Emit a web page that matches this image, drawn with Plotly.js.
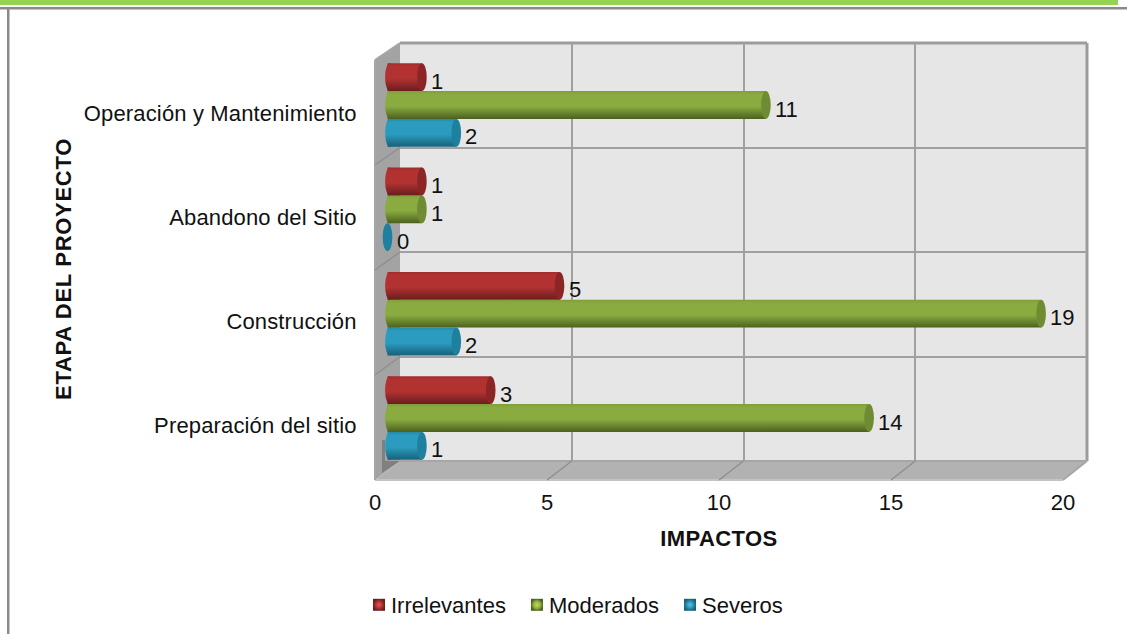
<!DOCTYPE html>
<html><head><meta charset="utf-8">
<script src="https://cdn.plot.ly/plotly-3.0.1.min.js"></script>
<style>html,body{margin:0;padding:0;background:#fff;overflow:hidden}#c{width:1127px;height:634px}</style>
</head><body><div id="c"></div>
<script>
const categories = ["Preparación del sitio","Construcción","Abandono del Sitio","Operación y Mantenimiento"];
const severos = [1,2,0,2];
const moderados = [14,19,1,11];
const irrelevantes = [3,5,1,1];
const xTicks = [0,5,10,15,20];

const W=1127,H=634;
const px=x=>x/W, py=y=>1-y/H;
const FONT='"Liberation Sans", Arial, sans-serif';
const FS=22;
const series=[
 {name:'Severos',values:severos,mid:'#2b9cbf',top:'#258aa8',bot:'#17617a',cap:'#1f7f9e',key:'#2a90b0',glow:'#5cc4e2'},
 {name:'Moderados',values:moderados,mid:'#8aab40',top:'#7f9e3a',bot:'#4c6120',cap:'#6f8c32',key:'#8fb03c',glow:'#c4dc5c'},
 {name:'Irrelevantes',values:irrelevantes,mid:'#b23232',top:'#a22c2c',bot:'#6a1d1d',cap:'#8c2626',key:'#b13030',glow:'#e05a5a'}
];
const GAP=0.2, BW=(1-GAP)/3;
const B0=400,B1=1087,F0=375,F1=1063,BT=43,BB=461,FT=60,FB=480;
const UNIT=34.4, BAR0=387.5;
const backX=v=>B0+(B1-B0)*v/20, frontX=v=>F0+(F1-F0)*v/20;

const shapes=[];
const poly=(pts,fill)=>shapes.push({type:'path',xref:'paper',yref:'paper',layer:'below',
  path:'M'+pts.map(p=>px(p[0])+','+py(p[1])).join('L')+'Z',fillcolor:fill,line:{width:0}});
const seg=(a,b,c,w)=>shapes.push({type:'line',xref:'paper',yref:'paper',layer:'below',
  x0:px(a[0]),y0:py(a[1]),x1:px(b[0]),y1:py(b[1]),line:{color:c,width:w}});
// page frame
poly([[0,0],[1118,0],[1118,5],[0,5]],'#94d452');
poly([[0,7],[1127,7],[1127,9.5],[0,9.5]],'#8a8a8a');
poly([[7,7],[9.5,7],[9.5,634],[7,634]],'#8a8a8a');
// walls
poly([[B0,BT],[B1,BT],[B1,BB],[B0,BB]],'#e6e6e6');
poly([[F0,FT],[B0,BT],[B0,BB],[F0,FB]],'#a3a3a3');
poly([[F0,FB],[B0,BB],[B1,BB],[F1,FB]],'#b2b2b2');
poly([[382,473],[400,461],[385,461],[385,440],[382,440]],'#808080');
seg([F0,FB],[F1,FB],'#c4c4c4',2);
seg([F1,FB],[B1,BB],'#a6a6a6',2);
seg([F0,FT],[B0,BT],'#a6a6a6',2);
seg([F0,FT],[F0,FB],'#a6a6a6',2);
seg([B0,BT],[B1,BT],'#9c9c9c',3);
seg([B1,BT],[B1,BB],'#9c9c9c',3);
seg([B0,BB],[B1,BB],'#a6a6a6',2);
xTicks.slice(1,-1).forEach(v=>seg([backX(v),BB],[frontX(v),FB],'#8f8f8f',1.5));
[1,2,3].forEach(i=>{const t=i/4;seg([B0,BT+(BB-BT)*t],[F0,FT+(FB-FT)*t],'#8f8f8f',1.5);});

// cylinder caps, placed through the bar axes
const leftCaps=[];
series.forEach((s,si)=>s.values.forEach((v,ci)=>{
  const yc=ci+(si-1)*BW;
  if(v>0){
    leftCaps.push({idx:shapes.length,si});
    shapes.push({type:'circle',xref:'x3',yref:'y3',layer:'above',x0:-0.07,x1:0.2,y0:yc-BW/2,y1:yc+BW/2,fillcolor:s.mid,line:{width:0}});
  }
  shapes.push({type:'circle',xref:'x3',yref:'y3',layer:'above',x0:v-0.14,x1:v+0.14,y0:yc-BW/2,y1:yc+BW/2,fillcolor:s.cap,line:{width:0}});
}));

const annotations=[];
series.forEach((s,si)=>s.values.forEach((v,ci)=>{
  annotations.push({xref:'x3',yref:'y3',x:v,y:ci+(si-1)*BW,text:String(v),showarrow:false,xanchor:'left',yanchor:'middle',
    xshift:7,yshift:-4,font:{family:FONT,size:FS,color:'#111'}});
}));

const data=[
 {type:'scatter',x:[],y:[],xaxis:'x',yaxis:'y',showlegend:false,hoverinfo:'skip'},
 {type:'scatter',x:[],y:[],xaxis:'x2',yaxis:'y2',showlegend:false,hoverinfo:'skip'}
].concat(series.map(s=>({type:'bar',orientation:'h',name:s.name,y:categories,x:s.values,xaxis:'x3',yaxis:'y3',
  marker:{color:s.key,line:{width:0}},hoverinfo:'x+y'})));

const layout={
 width:W,height:H,margin:{l:0,r:0,t:0,b:0,autoexpand:false},paper_bgcolor:'#fff',plot_bgcolor:'rgba(0,0,0,0)',
 font:{family:FONT,size:FS,color:'#111'},barmode:'group',bargap:GAP,bargroupgap:0,
 xaxis:{domain:[px(F0),px(F1)],range:[0,20],anchor:'y',tickvals:xTicks,showgrid:false,zeroline:false,showline:false,
   ticks:'outside',ticklen:6,tickcolor:'rgba(0,0,0,0)',tickfont:{size:FS},
   title:{text:'<b>IMPACTOS</b>',font:{size:FS},standoff:16}},
 yaxis:{domain:[py(477),py(61)],range:[-0.5,3.5],anchor:'x',tickvals:[0,1,2,3],ticktext:categories,showgrid:false,zeroline:false,showline:false,
   ticks:'outside',ticklen:13,tickcolor:'rgba(0,0,0,0)',tickfont:{size:FS},
   title:{text:'<b>ETAPA DEL PROYECTO</b>',font:{size:FS},standoff:9}},
 xaxis2:{domain:[px(B0),px(B1)],range:[0,20],anchor:'y2',tickvals:xTicks,showticklabels:false,ticks:'',showgrid:true,gridcolor:'#a0a0a0',gridwidth:2,zeroline:false,showline:false},
 yaxis2:{domain:[py(BB),py(BT)],range:[0,4],anchor:'x2',tickvals:[1,2,3],showticklabels:false,ticks:'',showgrid:true,gridcolor:'#a0a0a0',gridwidth:2,zeroline:false,showline:false},
 xaxis3:{domain:[px(BAR0-UNIT),px(BAR0+20*UNIT)],range:[-1,20],anchor:'y3',visible:false},
 yaxis3:{domain:[py(470.17),py(52.83)],type:'category',categoryorder:'array',categoryarray:categories,range:[-0.5,3.5],anchor:'x3',visible:false},
 legend:{orientation:'h',x:px(358),xanchor:'left',y:py(605),yanchor:'middle',traceorder:'reversed',font:{size:FS},itemwidth:30,bgcolor:'rgba(0,0,0,0)'},
 shapes,annotations,showlegend:true
};

Plotly.newPlot('c',data,layout,{displayModeBar:false,staticPlot:true}).then(gd=>{
  const NS='http://www.w3.org/2000/svg';
  const svg=gd.querySelector('svg.main-svg');
  const defs=svg.querySelector('defs')||svg.insertBefore(document.createElementNS(NS,'defs'),svg.firstChild);
  series.forEach((s,i)=>{
    const g=document.createElementNS(NS,'linearGradient');
    g.setAttribute('id','cyl'+i);g.setAttribute('x1','0');g.setAttribute('y1','0');g.setAttribute('x2','0');g.setAttribute('y2','1');
    [[0,s.top],[0.12,s.mid],[0.55,s.mid],[1,s.bot]].forEach(p=>{
      const st=document.createElementNS(NS,'stop');st.setAttribute('offset',p[0]);st.setAttribute('stop-color',p[1]);g.appendChild(st);
    });
    defs.appendChild(g);
    const r=document.createElementNS(NS,'radialGradient');
    r.setAttribute('id','key'+i);
    [[0,s.glow],[0.6,s.key],[1,s.bot]].forEach(p=>{
      const st=document.createElementNS(NS,'stop');st.setAttribute('offset',p[0]);st.setAttribute('stop-color',p[1]);r.appendChild(st);
    });
    defs.appendChild(r);
  });
  gd.querySelectorAll('.barlayer .trace.bars').forEach((t,i)=>{
    t.querySelectorAll('path').forEach(p=>{p.style.fill='url(#cyl'+i+')';});
  });
  leftCaps.forEach(c=>{
    const el=gd.querySelector('.shapelayer path[data-index="'+c.idx+'"]');
    if(el) el.style.fill='url(#cyl'+c.si+')';
  });
  gd.querySelectorAll('.xtitle').forEach(t=>{t.style.letterSpacing='0.4px';});
  gd.querySelectorAll('.ytitle').forEach(t=>{t.style.letterSpacing='0.7px';});
  gd.querySelectorAll('.ytick text').forEach(t=>{t.style.letterSpacing='0.15px';});
  gd.querySelectorAll('.legend .scrollbox').forEach(b=>b.removeAttribute('clip-path'));
  const shift=[1,-1,-3];
  gd.querySelectorAll('.legend .traces').forEach((t,i)=>{
    const m=/translate\(([-\d.]+),\s*([-\d.]+)\)/.exec(t.getAttribute('transform'));
    if(m) t.setAttribute('transform','translate('+(parseFloat(m[1])+shift[i])+','+m[2]+')');
    const tx=t.querySelector('.legendtext');
    tx.setAttribute('x',parseFloat(tx.getAttribute('x'))-8);
    const sw=t.querySelector('.legendpoints path');
    if(sw) sw.style.fill='url(#key'+(2-i)+')';
  });
});
</script></body></html>
